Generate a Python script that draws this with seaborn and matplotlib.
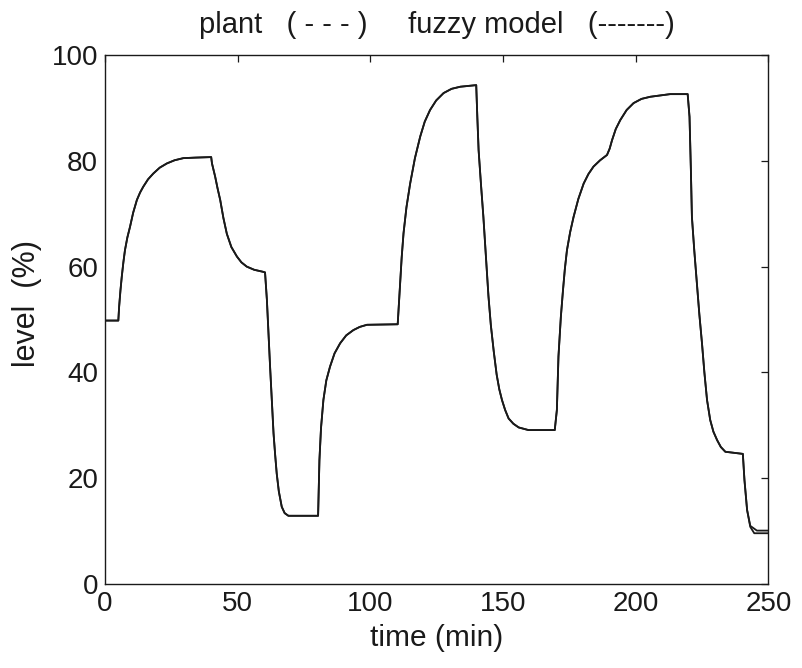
import matplotlib
matplotlib.use("Agg")
import matplotlib.pyplot as plt
import seaborn as sns
import pandas as pd

# ---- data ----
t_plant = [0, 5.0, 5.3, 5.8, 6.3, 6.9, 7.5, 8.4, 9.4, 10.6, 12.0, 13.2, 14.4,
           16.2, 18.2, 20.6, 23.3, 26.2, 29.5, 34.0, 40.0,
           40.3, 41.5, 42.4, 43.4, 44.6, 45.9, 47.6, 49.7, 51.4, 53.4, 56.2,
           59.7, 60.3,
           61.0, 61.6, 62.2, 62.9, 63.5, 64.1, 64.7, 65.5, 66.6, 67.7, 69.1,
           80.3,
           80.8, 81.4, 82.3, 83.4, 84.8, 86.5, 88.6, 90.9, 93.6, 96.0, 98.7,
           110.3,
           111.2, 111.8, 112.5, 113.6, 115.0, 116.8, 118.8, 120.5, 122.5, 124.8,
           127.6, 130.6, 133.9, 139.9,
           140.3, 140.8, 141.7, 142.6, 143.6, 144.5, 145.4, 146.5, 147.6, 148.6,
           149.6, 150.8, 152.1, 153.9, 155.9, 159.6, 169.5,
           170.3, 170.9, 171.8, 172.6, 173.3, 174.1, 175.3, 176.6, 178.4, 180.4,
           182.2, 184.1, 186.6, 189.2, 190.2, 191.1, 192.5, 194.2, 196.6, 199.2,
           202.2, 205.5, 213.0, 219.6,
           220.3, 220.8, 221.2, 222.1, 223.1, 224.0, 225.0, 225.9, 226.9, 228.1,
           229.3, 230.7, 232.1, 233.8, 240.4,
           241.0, 242.0, 243.2, 244.7, 250.0]
plant = [49.8, 49.8, 52.4, 55.5, 58.1, 60.8, 63.1, 65.5, 67.5, 70.2, 72.6, 74.0, 75.1,
         76.5, 77.6, 78.7, 79.5, 80.1, 80.5, 80.6, 80.7,
         79.5, 77.0, 74.8, 72.6, 69.2, 66.2, 63.7, 61.9, 60.8, 60.0, 59.4,
         59.0, 58.9,
         53.7, 47.5, 41.1, 34.5, 28.5, 24.5, 20.9, 17.5, 14.6, 13.4, 12.9,
         12.9,
         23.4, 29.5, 34.8, 38.5, 41.1, 43.6, 45.5, 47.0, 48.0, 48.6, 49.0,
         49.1,
         56.8, 61.7, 66.3, 71.2, 75.7, 80.5, 84.6, 87.4, 89.6, 91.4,
         92.8, 93.6, 94.0, 94.3,
         88.5, 82.0, 75.5, 69.4, 61.5, 54.5, 49.0, 44.0, 39.6, 36.8,
         34.8, 32.9, 31.3, 30.3, 29.6, 29.1, 29.1,
         32.9, 43.0, 50.5, 55.5, 59.5, 63.1, 66.5, 69.4, 72.8, 75.7,
         77.5, 78.9, 80.1, 81.1, 82.3, 83.9, 86.0, 87.7, 89.6, 90.9,
         91.7, 92.1, 92.6, 92.6,
         88.3, 78.5, 69.4, 63.0, 56.8, 51.0, 45.5, 40.0, 34.8, 31.0,
         28.8, 27.2, 25.9, 25.0, 24.6,
         19.7, 14.0, 10.8, 9.6, 9.6]

# fuzzy model follows the plant up to t = 242 min, then its own tail
model_tail_t = [243.2, 245.7, 250.0]
model_tail = [11.0, 10.1, 10.1]

title_text = "plant   ( - - - )     fuzzy model   (-------)"
x_ticks = [0, 50, 100, 150, 200, 250]
y_ticks = [0, 20, 40, 60, 80, 100]

# ---- build tables ----
k = t_plant.index(242.0) + 1
t_model = t_plant[:k] + model_tail_t
model = plant[:k] + model_tail

df = pd.concat([
    pd.DataFrame({"time": t_plant, "level": plant, "series": "plant"}),
    pd.DataFrame({"time": t_model, "level": model, "series": "fuzzy model"}),
])

sns.set_style("white")
plt.rcParams["font.family"] = ["Liberation Sans", "DejaVu Sans"]

fig = plt.figure(figsize=(8.02, 6.68), dpi=100)
ax = fig.add_axes([0.131, 0.1257, 0.827, 0.792])

sns.lineplot(data=df, x="time", y="level", hue="series", units="series",
             estimator=None, sort=False,
             palette={"plant": "#1a1a1a", "fuzzy model": "#1a1a1a"},
             linewidth=1.3, legend=False, ax=ax)

ax.set_xlim(0, 250)
ax.set_ylim(0, 100)
ax.set_xticks(x_ticks)
ax.set_yticks(y_ticks)
ax.tick_params(direction="in", length=5, width=0.9, top=True, right=True,
               labelsize=20, colors="#1a1a1a", pad=5)
for s in ax.spines.values():
    s.set_color("#1a1a1a")
    s.set_linewidth(1.0)

ax.set_xlabel("time (min)", fontsize=21.5, color="#1a1a1a", labelpad=5)
ax.set_ylabel("level  (%)", fontsize=22, color="#1a1a1a")
ax.yaxis.set_label_coords(-0.095, 0.531)
ax.set_title(title_text, fontsize=21, color="#1a1a1a", pad=16)

fig.savefig("out.png", dpi=100, facecolor="white")
